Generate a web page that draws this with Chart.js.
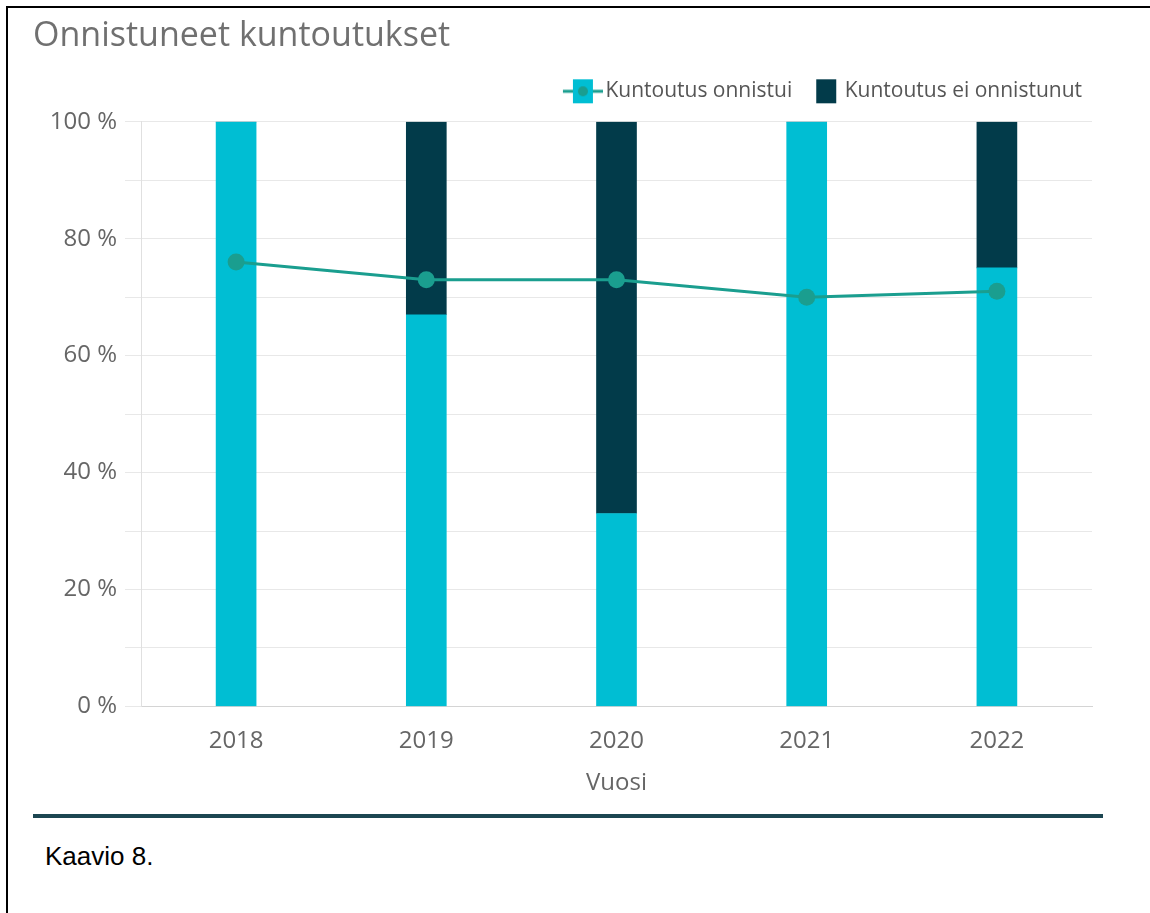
<!DOCTYPE html>
<html>
<head>
<meta charset="utf-8">
<script src="https://cdn.jsdelivr.net/npm/chart.js@4"></script>
<style>
  body { margin: 0; background: #fff; }
  #frame { position: absolute; left: 6px; top: 6px; width: 1144px; height: 907px;
           border-top: 2px solid #000; border-left: 2px solid #000; }
  #wrap { position: absolute; left: 0; top: 0; width: 1150px; height: 798px; }
  #sep { position: absolute; left: 33px; top: 814px; width: 1070px; height: 4px; background: #1c4651; }
  #caption { position: absolute; left: 45px; top: 841px; font: 26px "Liberation Sans", Arial, sans-serif; color: #000; }
</style>
</head>
<body>
<div id="frame"></div>
<div id="wrap"><canvas id="chart"></canvas></div>
<div id="sep"></div>
<div id="caption">Kaavio 8.</div>
<script>
  const years = ['2018', '2019', '2020', '2021', '2022'];
  const onnistui = [100, 67, 33, 100, 75];
  const eiOnnistunut = [0, 33, 67, 0, 25];
  const onnistuiLinja = [76, 73, 73, 70, 71];

  const cyan = '#00bed3';
  const dark = '#023b4a';
  const teal = '#1a9e8f';

  // legend icons
  function makeIcon(draw) {
    const c = document.createElement('canvas');
    c.width = 48; c.height = 26;
    draw(c.getContext('2d'));
    return c;
  }
  const iconLine = makeIcon(ctx => {
    ctx.strokeStyle = teal; ctx.lineWidth = 3;
    ctx.beginPath(); ctx.moveTo(8, 13); ctx.lineTo(48, 13); ctx.stroke();
    ctx.fillStyle = cyan; ctx.fillRect(18, 1, 20, 24);
    ctx.fillStyle = teal; ctx.beginPath(); ctx.arc(28, 13, 5, 0, Math.PI * 2); ctx.fill();
  });
  const iconDark = makeIcon(ctx => {
    ctx.fillStyle = dark; ctx.fillRect(22, 1, 20, 24);
  });

  const legendGap = {
    id: 'legendGap',
    beforeInit(chart) {
      const fit = chart.legend.fit;
      chart.legend.fit = function () { fit.bind(chart.legend)(); this.height += 10; };
    }
  };

  new Chart(document.getElementById('chart'), {
    type: 'bar',
    data: {
      labels: years,
      datasets: [
        {
          type: 'line',
          label: 'Kuntoutus onnistui (viiva)',
          data: onnistuiLinja,
          borderColor: teal,
          backgroundColor: teal,
          borderWidth: 3,
          pointRadius: 8.5,
          pointBorderWidth: 0,
          stack: 'line',
          order: 0
        },
        {
          label: 'Kuntoutus onnistui',
          data: onnistui,
          backgroundColor: cyan,
          barThickness: 40,
          stack: 'bars',
          order: 1
        },
        {
          label: 'Kuntoutus ei onnistunut',
          data: eiOnnistunut,
          backgroundColor: dark,
          barThickness: 40,
          stack: 'bars',
          order: 1
        }
      ]
    },
    plugins: [legendGap],
    options: {
      responsive: true,
      maintainAspectRatio: false,
      animation: false,
      layout: { padding: { left: 33, right: 58, top: 8, bottom: 0 } },
      plugins: {
        title: {
          display: true,
          text: 'Onnistuneet kuntoutukset',
          align: 'start',
          color: '#707070',
          font: { family: 'Open Sans', size: 34, weight: 'normal' },
          padding: { top: 8, bottom: 14 }
        },
        legend: {
          position: 'top',
          align: 'end',
          labels: {
            usePointStyle: true,
            pointStyleWidth: 32,
            color: '#555',
            font: { family: 'Open Sans', size: 21 },
            padding: 10,
            generateLabels() {
              return [
                { text: 'Kuntoutus onnistui', pointStyle: iconLine, fontColor: '#555', datasetIndex: 1, lineWidth: 0, hidden: false },
                { text: 'Kuntoutus ei onnistunut', pointStyle: iconDark, fontColor: '#555', datasetIndex: 2, lineWidth: 0, hidden: false }
              ];
            }
          }
        },
        tooltip: { enabled: false }
      },
      scales: {
        x: {
          stacked: true,
          grid: { display: false },
          border: { color: '#d4d4d4' },
          ticks: { color: '#666', font: { family: 'Open Sans', size: 24 }, padding: 12 },
          title: { display: true, text: 'Vuosi', color: '#666', font: { family: 'Open Sans', size: 24 }, padding: { top: 2, bottom: 0 } }
        },
        y: {
          stacked: true,
          min: 0,
          max: 100,
          afterFit(axis) { axis.width = 108; },
          grid: { color: '#e8e8e8', tickLength: 16 },
          border: { color: '#e0e0e0' },
          ticks: {
            stepSize: 10,
            color: '#666',
            padding: 8,
            font: { family: 'Open Sans', size: 24 },
            callback: v => (v % 20 === 0 ? v + ' %' : '')
          }
        }
      }
    }
  });
</script>
</body>
</html>
